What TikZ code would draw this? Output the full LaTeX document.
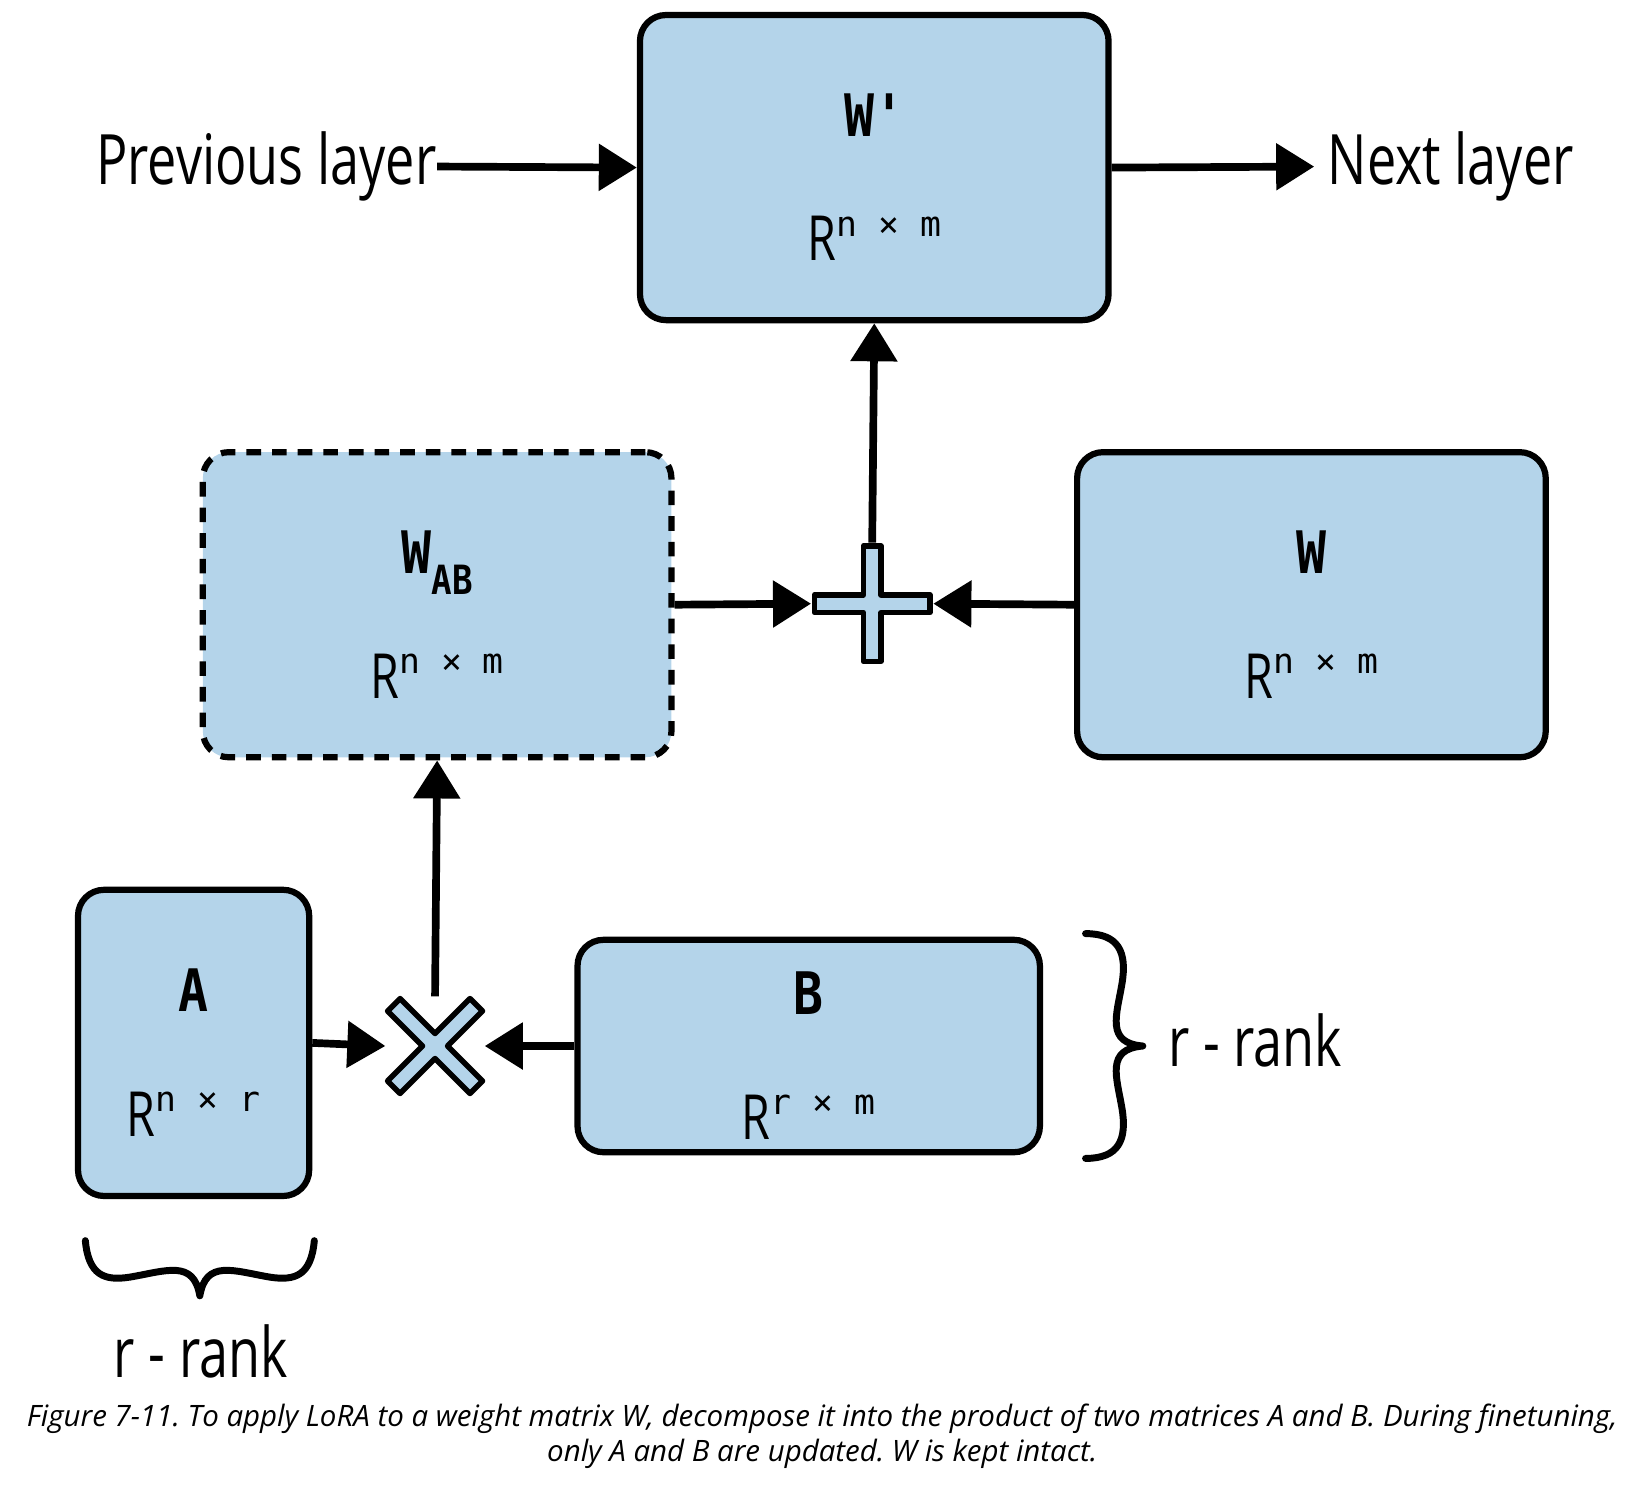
\documentclass[tikz,border=0pt]{standalone}
\usepackage{fontspec}
\usetikzlibrary{arrows.meta}
\newfontfamily\condfont[FakeStretch=0.75]{Open Sans}
\newfontfamily\namefont[FakeStretch=0.85]{DejaVu Sans Mono Bold}
\newfontfamily\dimfont{DejaVu Sans Mono}
\newfontfamily\capfont{Open Sans Italic}
\definecolor{boxblue}{RGB}{180,212,234}
\frenchspacing
% R with the small superscript sizes
\newcommand{\matdim}[2]{{\condfont\fontsize{17}{17}\selectfont R}\raisebox{6.8pt}{\dimfont\fontsize{9.5}{9.5}\selectfont #1 × #2}}
\newcommand{\matname}[1]{\rule{0pt}{17pt}{\namefont\fontsize{16}{16}\selectfont #1}}
\tikzset{
  matbox/.style={draw, line width=1.7pt, fill=boxblue, rounded corners=2.5mm, align=center, inner sep=0pt, font=\fontsize{16}{34}\selectfont},
  link/.style={line width=2.1pt, -{Triangle[length=10.4pt,width=12.4pt]}},
  opnode/.style={minimum size=#1, inner sep=0pt},
  opshape/.style={line width=1.5pt, fill=boxblue, line join=round},
  brace/.style={line width=1.9pt, line cap=round, line join=round},
  side/.style={font=\condfont\fontsize{19}{19}\selectfont, inner sep=0pt}
}
\begin{document}
\begin{tikzpicture}[x=0.01cm, y=-0.01cm]
  \useasboundingbox (0,0) rectangle (1568,1427);
  % matrices
  \node[matbox, minimum width=45mm, minimum height=29.3mm] (wprime) at (840,161) {\matname{W'}\\\matdim{n}{m}};
  \node[matbox, dashed, dash pattern=on 4pt off 3pt, minimum width=45mm, minimum height=29.3mm] (wab) at (420,581) {\matname{W}\raisebox{-5.7pt}{\namefont\fontsize{11}{11}\selectfont AB}\\\matdim{n}{m}};
  \node[matbox, minimum width=45mm, minimum height=29.3mm] (w) at (1260,581) {\matname{W}\\\matdim{n}{m}};
  \node[matbox, minimum width=22.2mm, minimum height=29.4mm] (a) at (186,1002) {\matname{A}\\\matdim{n}{r}};
  \node[matbox, minimum width=44.4mm, minimum height=20.4mm] (b) at (777,1005) {\matname{B}\\\matdim{r}{m}};
  % operators
  \node[opnode=11.6mm] (plus) at (838,580) {};
  \node[opnode=9.4mm] (cross) at (418,1005) {};
  \draw[opshape, shift={(plus.center)}] (-8.5,-55.5) -- (8.5,-55.5) -- (8.5,-8.5) -- (55.5,-8.5) -- (55.5,8.5) -- (8.5,8.5) -- (8.5,55.5) -- (-8.5,55.5) -- (-8.5,8.5) -- (-55.5,8.5) -- (-55.5,-8.5) -- (-8.5,-8.5) -- cycle;
  \draw[opshape, shift={(cross.center)}, rotate=45] (-8.5,-56) -- (8.5,-56) -- (8.5,-8.5) -- (56,-8.5) -- (56,8.5) -- (8.5,8.5) -- (8.5,56) -- (-8.5,56) -- (-8.5,8.5) -- (-56,8.5) -- (-56,-8.5) -- (-8.5,-8.5) -- cycle;
  % layers
  \node[side, anchor=east] (prev) at (420,160) {Previous layer};
  \node[side, anchor=west] (next) at (1275,160) {Next layer};
  \draw[link] (prev.east) -- (wprime.west);
  \draw[link, shorten >=3.5pt] (wprime.east) -- (next.west);
  \draw[link] (plus.north) -- (wprime.south);
  \draw[link] (wab.east) -- (plus.west);
  \draw[link] (w.west) -- (plus.east);
  \draw[link] (cross.north) -- (wab.south);
  \draw[link] (a.east) -- (cross.west);
  \draw[link] (b.west) -- (cross.east);
  % braces
  \draw[brace] (1043,897) .. controls (1075,897) and (1083,915) .. (1078,945) .. controls (1073,975) and (1062,1002) .. (1098,1005) .. controls (1062,1008) and (1073,1035) .. (1078,1065) .. controls (1083,1095) and (1075,1113) .. (1043,1113);
  \draw[brace] (82,1192) .. controls (85,1225) and (100,1231) .. (125,1227) .. controls (160,1221) and (186,1210) .. (192,1245) .. controls (198,1210) and (224,1221) .. (259,1227) .. controls (284,1231) and (299,1225) .. (302,1192);
  \node[side, anchor=west] (rankr) at (1122,1000) {r - rank};
  \node[side] (rankb) at (193,1298) {r - rank};
  % caption
  \node[font=\capfont\fontsize{8.05}{9.7}\selectfont, align=center, inner sep=0pt] (caption) at (790,1380) {Figure 7-11. To apply LoRA to a weight matrix W, decompose it into the product of two matrices A and B. During finetuning,\\only A and B are updated. W is kept intact.};
\end{tikzpicture}
\end{document}
